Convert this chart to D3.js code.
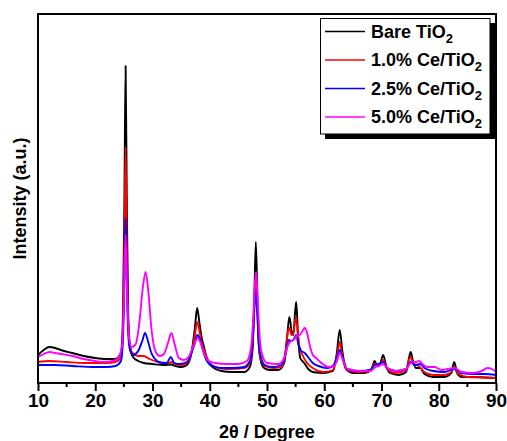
<!DOCTYPE html>
<html>
<head>
<meta charset="utf-8">
<script src="https://cdn.jsdelivr.net/npm/d3@7"></script>
<style>
  body { margin: 0; background: #fff; }
  svg { font-family: "Liberation Sans", Arial, sans-serif; font-weight: bold; }
</style>
</head>
<body>
<div id="chart"></div>
<script>
// XRD patterns, [2theta, intensity (a.u.)]
var bare = [[10, 280], [11, 330], [12, 360], [13, 350], [14, 330], [16, 300], [18, 270], [20, 250], [22, 240], [23.5, 240], [24.5, 300], [24.85, 700], [25.1, 1900], [25.3, 3170], [25.5, 1900], [25.75, 700], [26.1, 360], [26.6, 260], [27.5, 220], [28.5, 200], [30, 190], [32, 180], [33.3, 185], [34, 170], [35, 160], [36, 180], [36.8, 300], [37.4, 550], [37.8, 750], [38.2, 600], [38.6, 450], [39, 360], [39.6, 220], [40.5, 160], [42, 120], [44, 110], [46, 110], [47, 160], [47.5, 350], [47.8, 900], [48.05, 1410], [48.3, 900], [48.6, 350], [49, 200], [49.5, 150], [50.5, 130], [52, 130], [53, 200], [53.5, 450], [53.9, 660], [54.3, 520], [54.6, 480], [54.9, 700], [55.1, 810], [55.4, 500], [55.8, 250], [56.5, 200], [57.2, 140], [58, 110], [60, 100], [61.5, 120], [62.2, 300], [62.7, 530], [63.2, 300], [63.8, 140], [65, 100], [67, 100], [68.2, 130], [68.8, 220], [69.3, 170], [69.8, 200], [70.3, 280], [70.8, 170], [71.5, 100], [73, 80], [74.3, 110], [74.8, 250], [75.1, 310], [75.5, 220], [76, 150], [76.8, 150], [77.5, 90], [79, 60], [81, 60], [82.2, 100], [82.7, 210], [83.2, 100], [84, 60], [86, 60], [88, 55], [90, 50]];

var ce10 = [[10, 210], [12, 220], [15, 210], [18, 200], [20, 200], [22, 200], [23.5, 210], [24.5, 260], [24.85, 550], [25.1, 1400], [25.3, 2360], [25.5, 1400], [25.75, 600], [26.1, 350], [26.5, 300], [27.5, 270], [28.5, 270], [29.5, 240], [31, 210], [33, 200], [33.3, 210], [34, 190], [35, 180], [36, 200], [36.8, 300], [37.4, 480], [37.8, 610], [38.2, 520], [38.6, 400], [39.2, 300], [40, 200], [41, 160], [43, 140], [46, 150], [47, 200], [47.5, 400], [47.8, 800], [48.05, 1050], [48.3, 750], [48.6, 350], [49, 220], [49.6, 170], [51, 150], [52.5, 160], [53.2, 300], [53.6, 500], [53.9, 550], [54.3, 480], [54.6, 500], [55, 650], [55.2, 600], [55.6, 380], [56.2, 280], [57, 200], [58, 150], [60, 110], [61.5, 130], [62.2, 260], [62.7, 410], [63.2, 250], [64, 130], [66, 110], [68, 120], [68.8, 190], [69.5, 170], [70.3, 230], [71, 140], [72.5, 100], [74.3, 130], [74.8, 230], [75.1, 260], [75.6, 190], [76.5, 170], [77.5, 110], [79, 80], [81, 80], [82.2, 110], [82.7, 160], [83.3, 100], [85, 60], [88, 55], [90, 50]];

var ce25 = [[10, 180], [13, 180], [16, 170], [20, 160], [22, 160], [23.5, 170], [24.5, 220], [24.85, 450], [25.1, 1050], [25.3, 1650], [25.5, 1050], [25.75, 500], [26.1, 320], [26.6, 280], [27.5, 320], [28.2, 420], [28.7, 500], [29.2, 420], [29.8, 300], [30.6, 230], [31.5, 200], [32.5, 200], [33.2, 260], [33.8, 200], [34.6, 190], [36, 210], [36.8, 300], [37.4, 400], [37.8, 480], [38.3, 440], [38.8, 330], [39.5, 220], [40.5, 170], [42, 150], [44, 150], [46, 160], [47, 220], [47.5, 450], [47.8, 750], [48.05, 930], [48.3, 700], [48.6, 380], [49, 250], [49.6, 180], [51, 160], [52.5, 180], [53.3, 300], [53.8, 430], [54.3, 420], [54.8, 450], [55.1, 480], [55.5, 380], [56, 320], [56.6, 300], [57.3, 250], [58, 200], [59, 170], [60.5, 150], [61.5, 170], [62.2, 250], [62.7, 330], [63.2, 250], [64, 140], [66, 120], [68, 130], [68.8, 180], [69.5, 190], [70.3, 210], [71, 150], [72.5, 120], [74.3, 140], [75.1, 210], [75.8, 180], [76.8, 190], [77.5, 150], [79, 120], [81, 110], [82.7, 140], [84, 100], [86, 90], [88, 90], [90, 80]];

var ce50 = [[10, 260], [11, 290], [12, 310], [13, 300], [14, 290], [16, 270], [18, 240], [20, 220], [21.5, 210], [23, 220], [24, 250], [24.7, 380], [25, 850], [25.3, 1480], [25.6, 850], [25.9, 450], [26.3, 360], [27, 380], [27.7, 600], [28.3, 950], [28.8, 1110], [29.3, 900], [29.8, 550], [30.5, 320], [31.3, 270], [32, 290], [32.7, 400], [33.3, 500], [33.9, 380], [34.6, 250], [35.5, 230], [36.3, 260], [37, 350], [37.5, 420], [37.9, 450], [38.4, 400], [39, 300], [39.8, 220], [41, 200], [43, 190], [45, 190], [46.5, 220], [47.2, 350], [47.6, 650], [47.9, 1000], [48.1, 1110], [48.4, 800], [48.8, 400], [49.3, 260], [50, 200], [52, 190], [53, 250], [53.5, 350], [53.9, 400], [54.3, 420], [54.8, 440], [55.2, 470], [55.7, 480], [56.2, 520], [56.6, 550], [57, 500], [57.5, 370], [58, 280], [58.6, 250], [59.3, 210], [60, 180], [60.7, 160], [61.7, 170], [62.2, 220], [62.7, 300], [63.2, 240], [64, 140], [66, 120], [68, 120], [69, 160], [69.5, 170], [70.3, 190], [71, 150], [72.5, 120], [74.3, 140], [75.1, 200], [76, 210], [76.6, 220], [77.3, 180], [78, 160], [79.3, 160], [80.5, 130], [81.5, 140], [82.7, 150], [84, 110], [86, 100], [87.5, 120], [88.5, 150], [89.3, 140], [90, 110]];

var seriesNames = ["Bare TiO", "1.0% Ce/TiO", "2.5% Ce/TiO", "5.0% Ce/TiO"];
var seriesColors = ["#000000", "#ff0000", "#0000ff", "#ff00ff"];
var seriesData = [bare, ce10, ce25, ce50];
var xTicks = [10, 20, 30, 40, 50, 60, 70, 80, 90];

var width = 507, height = 441;
var margin = {left: 38, right: 11, top: 14, bottom: 58};

var svg = d3.select("#chart").append("svg")
    .attr("width", width).attr("height", height);

var xScale = d3.scaleLinear()
    .domain([10, 90])
    .range([margin.left, width - margin.right]);

var yScale = d3.scaleLinear()
    .domain([0, 3690])
    .range([height - margin.bottom, margin.top]);

var line = d3.line()
    .x(function(d) { return xScale(d[0]); })
    .y(function(d) { return yScale(d[1]); })
    .curve(d3.curveMonotoneX);

// clip lines to the frame
svg.append("defs").append("clipPath").attr("id", "clip")
    .append("rect")
    .attr("x", margin.left).attr("y", margin.top)
    .attr("width", width - margin.left - margin.right)
    .attr("height", height - margin.top - margin.bottom);

var plot = svg.append("g").attr("clip-path", "url(#clip)");

seriesData.forEach(function(s, i) {
    plot.append("path")
        .datum(s)
        .attr("fill", "none")
        .attr("stroke", seriesColors[i])
        .attr("stroke-width", 1.9)
        .attr("stroke-linejoin", "round")
        .attr("d", line);
});

// bottom axis, major + minor ticks
var xAxis = svg.append("g")
    .attr("transform", "translate(0," + (height - margin.bottom) + ")")
    .call(d3.axisBottom(xScale)
        .tickValues(xTicks)
        .tickSize(8)
        .tickPadding(3)
        .tickFormat(d3.format("d")));
xAxis.select(".domain").remove();
xAxis.selectAll("line").attr("stroke-width", 2);
xAxis.selectAll("text").attr("font-size", 19).attr("font-weight", "bold").attr("fill", "#000")
    .attr("font-family", "Liberation Sans, Arial, sans-serif");

svg.append("g")
    .attr("transform", "translate(0," + (height - margin.bottom) + ")")
    .selectAll("line")
    .data(xTicks.slice(0, -1).map(function(d) { return d + 5; }))
    .enter().append("line")
    .attr("x1", function(d) { return xScale(d); })
    .attr("x2", function(d) { return xScale(d); })
    .attr("y1", 0).attr("y2", 4)
    .attr("stroke", "#000").attr("stroke-width", 2);

// frame
svg.append("rect")
    .attr("x", margin.left).attr("y", margin.top)
    .attr("width", width - margin.left - margin.right)
    .attr("height", height - margin.top - margin.bottom)
    .attr("fill", "none")
    .attr("stroke", "#000")
    .attr("stroke-width", 2);

svg.append("text")
    .attr("x", (xScale(10) + xScale(90)) / 2)
    .attr("y", 438)
    .attr("text-anchor", "middle")
    .attr("font-size", 18)
    .text("2θ / Degree");

svg.append("text")
    .attr("transform", "translate(26," + ((margin.top + height - margin.bottom) / 2) + ") rotate(-90)")
    .attr("text-anchor", "middle")
    .attr("font-size", 18)
    .text("Intensity (a.u.)");

// legend with drop shadow
var lg = svg.append("g");
lg.append("rect")
    .attr("x", 325).attr("y", 23).attr("width", 170).attr("height", 116)
    .attr("fill", "#000");
lg.append("rect")
    .attr("x", 320.5).attr("y", 18.5).attr("width", 169.5).attr("height", 115.5)
    .attr("fill", "#fff").attr("stroke", "#000").attr("stroke-width", 1);

seriesNames.forEach(function(name, i) {
    var y = 31.5 + i * 28.5;
    lg.append("line")
        .attr("x1", 325).attr("x2", 365)
        .attr("y1", y).attr("y2", y)
        .attr("stroke", seriesColors[i]).attr("stroke-width", 1.5);
    var t = lg.append("text")
        .attr("x", 371).attr("y", y + 6)
        .attr("font-size", 18);
    t.append("tspan").text(name);
    t.append("tspan").attr("font-size", 13).attr("dy", 5).text("2");
});
</script>
</body>
</html>
